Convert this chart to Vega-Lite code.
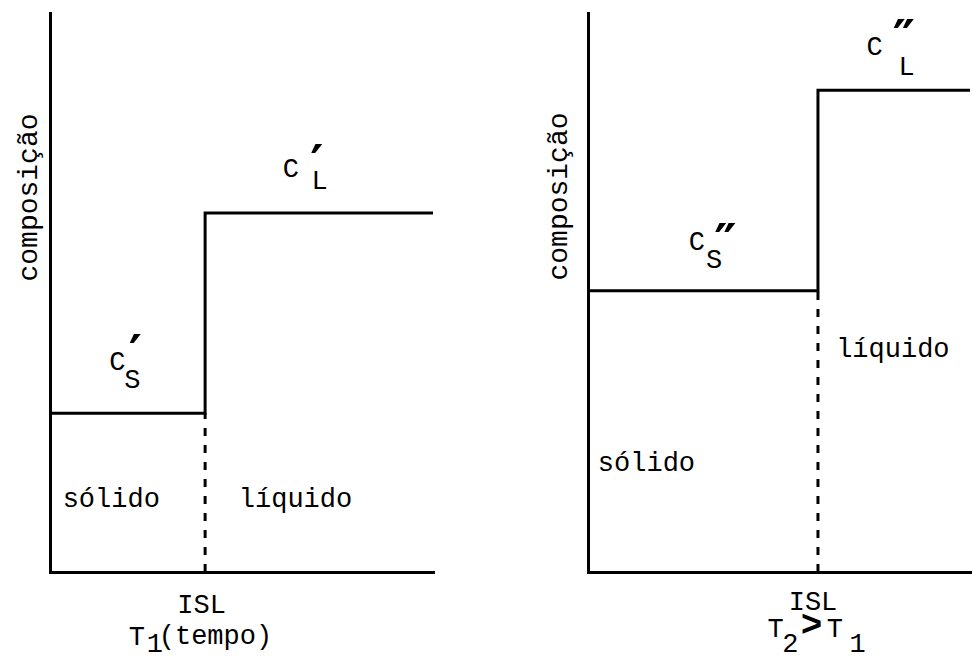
{
  "$schema": "https://vega.github.io/schema/vega-lite/v6.json",
  "background": "white",
  "padding": {"left": 14, "top": 13, "right": 0, "bottom": 6},
  "spacing": 105,
  "config": {
    "view": {"stroke": null},
    "axis": {"grid": false, "ticks": false, "labels": false, "domainColor": "black", "domainWidth": 3, "domainCap": "square"}
  },
  "datasets": {
    "perfil": [
      {"painel": "T1", "tempo": 0, "composicao": 2.84},
      {"painel": "T1", "tempo": 4.05, "composicao": 6.42},
      {"painel": "T1", "tempo": 10, "composicao": 6.42},
      {"painel": "T2", "tempo": 0, "composicao": 5.03},
      {"painel": "T2", "tempo": 6.02, "composicao": 8.62},
      {"painel": "T2", "tempo": 10, "composicao": 8.62}
    ],
    "interface": [
      {"painel": "T1", "tempo": 4.05, "base": 0, "topo": 2.84},
      {"painel": "T2", "tempo": 6.02, "base": 0, "topo": 5.03}
    ],
    "rotulos": [
      {"painel": "T1", "papel": "normal", "texto": "C", "tempo": 1.76, "composicao": 3.61},
      {"painel": "T1", "papel": "normal", "texto": "S", "tempo": 2.15, "composicao": 3.29},
      {"painel": "T1", "papel": "linha", "texto": "′", "tempo": 2.23, "composicao": 3.61},
      {"painel": "T1", "papel": "normal", "texto": "C", "tempo": 6.29, "composicao": 7.07},
      {"painel": "T1", "papel": "normal", "texto": "L", "tempo": 7.04, "composicao": 6.85},
      {"painel": "T1", "papel": "linha", "texto": "′", "tempo": 6.97, "composicao": 7.02},
      {"painel": "T1", "papel": "normal", "texto": "sólido", "tempo": 1.6, "composicao": 1.16},
      {"painel": "T1", "papel": "normal", "texto": "líquido", "tempo": 6.41, "composicao": 1.16},
      {"painel": "T1", "papel": "normal", "texto": "ISL", "tempo": 3.96, "composicao": -0.73},
      {"painel": "T1", "papel": "normal", "texto": "T", "tempo": 2.27, "composicao": -1.3},
      {"painel": "T1", "papel": "normal", "texto": "1", "tempo": 2.74, "composicao": -1.44},
      {"painel": "T1", "papel": "normal", "texto": "(tempo)", "tempo": 4.32, "composicao": -1.28},
      {"painel": "T2", "papel": "normal", "texto": "C", "tempo": 2.85, "composicao": 5.76},
      {"painel": "T2", "papel": "normal", "texto": "S", "tempo": 3.3, "composicao": 5.44},
      {"painel": "T2", "papel": "linha", "texto": "″", "tempo": 3.6, "composicao": 5.6},
      {"painel": "T2", "papel": "normal", "texto": "C", "tempo": 7.5, "composicao": 9.25},
      {"painel": "T2", "papel": "normal", "texto": "L", "tempo": 8.34, "composicao": 8.89},
      {"painel": "T2", "papel": "linha", "texto": "″", "tempo": 8.27, "composicao": 9.25},
      {"painel": "T2", "papel": "normal", "texto": "líquido", "tempo": 7.98, "composicao": 3.85},
      {"painel": "T2", "papel": "normal", "texto": "sólido", "tempo": 1.53, "composicao": 1.81},
      {"painel": "T2", "papel": "normal", "texto": "ISL", "tempo": 5.89, "composicao": -0.68},
      {"painel": "T2", "papel": "normal", "texto": "T", "tempo": 4.91, "composicao": -1.16},
      {"painel": "T2", "papel": "normal", "texto": "2", "tempo": 5.3, "composicao": -1.43},
      {"painel": "T2", "papel": "negrito", "texto": ">", "tempo": 5.85, "composicao": -1.14},
      {"painel": "T2", "papel": "normal", "texto": "T", "tempo": 6.46, "composicao": -1.16},
      {"painel": "T2", "papel": "normal", "texto": "1", "tempo": 7.06, "composicao": -1.44}
    ]
  },
  "hconcat": [
    {
      "width": 383,
      "height": 559,
      "layer": [
        {
          "data": {"name": "perfil"},
          "transform": [{"filter": "datum.painel === 'T1'"}],
          "mark": {"type": "line", "interpolate": "step-after", "color": "black", "strokeWidth": 3},
          "encoding": {
            "x": {"field": "tempo", "type": "quantitative", "scale": {"domain": [0, 10], "nice": false}, "axis": {"title": null}},
            "y": {"field": "composicao", "type": "quantitative", "scale": {"domain": [0, 10], "nice": false},
              "axis": {"title": "composição", "titleFont": "Liberation Mono", "titleFontSize": 28, "titleFontWeight": "normal", "titleColor": "black", "titleAngle": -90, "titleX": -14, "titleY": 184, "titleAlign": "center", "titleBaseline": "alphabetic", "titleLimit": 1000}}
          }
        },
        {
          "data": {"name": "interface"},
          "transform": [{"filter": "datum.painel === 'T1'"}],
          "mark": {"type": "rule", "strokeDash": [8, 9], "strokeWidth": 3, "color": "black"},
          "encoding": {
            "x": {"field": "tempo", "type": "quantitative"},
            "y": {"field": "base", "type": "quantitative"},
            "y2": {"field": "topo"}
          }
        },
        {
          "data": {"name": "rotulos"},
          "transform": [{"filter": "datum.painel === 'T1' && datum.papel === 'normal'"}],
          "mark": {"type": "text", "align": "center", "baseline": "alphabetic", "font": "Liberation Mono", "fontSize": 27, "color": "black"},
          "encoding": {
            "x": {"field": "tempo", "type": "quantitative"},
            "y": {"field": "composicao", "type": "quantitative"},
            "text": {"field": "texto"}
          }
        },
        {
          "data": {"name": "rotulos"},
          "transform": [{"filter": "datum.painel === 'T1' && datum.papel === 'linha'"}],
          "mark": {"type": "text", "align": "center", "baseline": "alphabetic", "font": "DejaVu Sans", "fontWeight": "bold", "fontSize": 50, "color": "black"},
          "encoding": {
            "x": {"field": "tempo", "type": "quantitative"},
            "y": {"field": "composicao", "type": "quantitative"},
            "text": {"field": "texto"}
          }
        }
      ]
    },
    {
      "width": 382,
      "height": 559,
      "layer": [
        {
          "data": {"name": "perfil"},
          "transform": [{"filter": "datum.painel === 'T2'"}],
          "mark": {"type": "line", "interpolate": "step-after", "color": "black", "strokeWidth": 3},
          "encoding": {
            "x": {"field": "tempo", "type": "quantitative", "scale": {"domain": [0, 10], "nice": false}, "axis": {"title": null}},
            "y": {"field": "composicao", "type": "quantitative", "scale": {"domain": [0, 10], "nice": false},
              "axis": {"title": "composição", "titleFont": "Liberation Mono", "titleFontSize": 28, "titleFontWeight": "normal", "titleColor": "black", "titleAngle": -90, "titleX": -22, "titleY": 183, "titleAlign": "center", "titleBaseline": "alphabetic", "titleLimit": 1000}}
          }
        },
        {
          "data": {"name": "interface"},
          "transform": [{"filter": "datum.painel === 'T2'"}],
          "mark": {"type": "rule", "strokeDash": [8, 9], "strokeWidth": 3, "color": "black"},
          "encoding": {
            "x": {"field": "tempo", "type": "quantitative"},
            "y": {"field": "base", "type": "quantitative"},
            "y2": {"field": "topo"}
          }
        },
        {
          "data": {"name": "rotulos"},
          "transform": [{"filter": "datum.painel === 'T2' && datum.papel === 'normal'"}],
          "mark": {"type": "text", "align": "center", "baseline": "alphabetic", "font": "Liberation Mono", "fontSize": 27, "color": "black"},
          "encoding": {
            "x": {"field": "tempo", "type": "quantitative"},
            "y": {"field": "composicao", "type": "quantitative"},
            "text": {"field": "texto"}
          }
        },
        {
          "data": {"name": "rotulos"},
          "transform": [{"filter": "datum.painel === 'T2' && datum.papel === 'negrito'"}],
          "mark": {"type": "text", "align": "center", "baseline": "alphabetic", "font": "Liberation Mono", "fontWeight": "bold", "fontSize": 36, "color": "black"},
          "encoding": {
            "x": {"field": "tempo", "type": "quantitative"},
            "y": {"field": "composicao", "type": "quantitative"},
            "text": {"field": "texto"}
          }
        },
        {
          "data": {"name": "rotulos"},
          "transform": [{"filter": "datum.painel === 'T2' && datum.papel === 'linha'"}],
          "mark": {"type": "text", "align": "center", "baseline": "alphabetic", "font": "DejaVu Sans", "fontWeight": "bold", "fontSize": 50, "color": "black"},
          "encoding": {
            "x": {"field": "tempo", "type": "quantitative"},
            "y": {"field": "composicao", "type": "quantitative"},
            "text": {"field": "texto"}
          }
        }
      ]
    }
  ]
}
